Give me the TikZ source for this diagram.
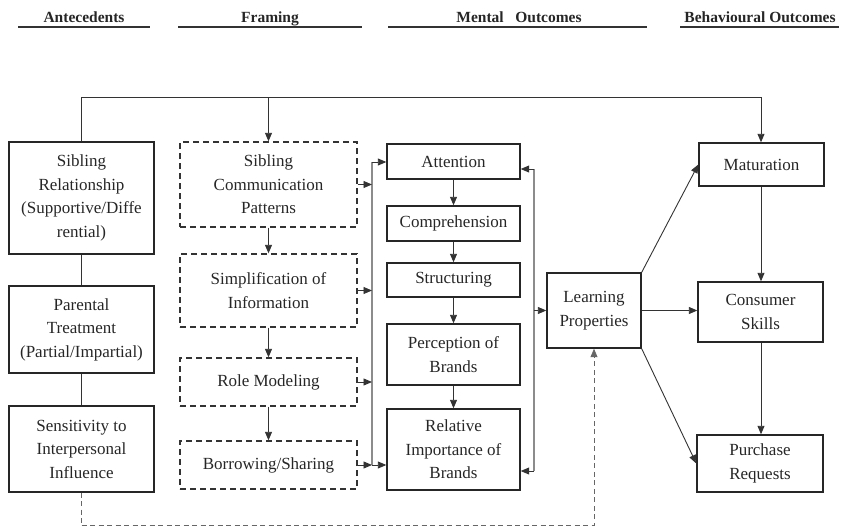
\documentclass[tikz,border=0pt]{standalone}
\usepackage{fontspec}
\setmainfont{Liberation Serif}
\usetikzlibrary{arrows.meta}
\begin{document}
\begin{tikzpicture}[x=1pt,y=-1pt,
  every node/.style={font=\fontsize{17}{23.5}\selectfont, text=black!85, align=center, inner sep=0pt},
  box/.style={draw=black!85, line width=1.4pt},
  dbox/.style={draw=black!80, line width=1.4pt, dash pattern=on 6pt off 4pt},
  head/.style={font=\fontsize{15.5}{18}\selectfont\bfseries, anchor=base},
  hline/.style={draw=black!80, line width=1.6pt},
  conn/.style={draw=black!80, line width=0.9pt},
  bus/.style={draw=black!45, line width=1.2pt},
  arr/.style={-{Triangle[length=8.5pt,width=7pt]}},
  dline/.style={draw=black!60, line width=0.8pt, dash pattern=on 5pt off 3.5pt}
]
\useasboundingbox (0,0) rectangle (843,527);
\newcommand{\bx}[6]{\node[#1, minimum width=#4-#2, minimum height=#5-#3] (#6) at ({(#2+#4)/2},{(#3+#5)/2})}
% headers
\node[head] (h1) at (84,23) {Antecedents};
\node[head] (h2) at (270,23) {Framing};
\node[head] (h3) at (519,23) {Mental\ \ \ Outcomes};
\node[head] (h4) at (760,23) {Behavioural Outcomes};
\draw[hline] (18,27) -- (150,27);
\draw[hline] (178,27) -- (362,27);
\draw[hline] (388,27) -- (647,27);
\draw[hline] (680,27) -- (839,27);
% antecedents
\bx{box}{9}{142}{154}{254}{sr} {Sibling\\Relationship\\(Supportive/Diffe\\rential)};
\bx{box}{9}{286}{154}{373}{pt} {Parental\\Treatment\\(Partial/Impartial)};
\bx{box}{9}{406}{154}{492}{si} {Sensitivity to\\Interpersonal\\Influence};
% framing
\bx{dbox}{180}{142}{357}{227}{sc} {Sibling\\Communication\\Patterns};
\bx{dbox}{180}{254}{357}{327}{sim} {Simplification of\\Information};
\bx{dbox}{180}{358}{357}{406}{rm} {Role Modeling};
\bx{dbox}{180}{441}{357}{489}{bs} {Borrowing/Sharing};
% mental
\bx{box}{387}{144}{520}{179}{at} {Attention};
\bx{box}{387}{206}{520}{241}{co} {Comprehension};
\bx{box}{387}{263}{520}{297}{st} {Structuring};
\bx{box}{387}{324}{520}{385}{pb} {Perception of\\Brands};
\bx{box}{387}{409}{520}{490}{ri} {Relative\\Importance of\\Brands};
% learning + behavioural
\bx{box}{547}{273}{641}{348}{lp} {Learning\\Properties};
\bx{box}{699}{143}{824}{186}{ma} {Maturation};
\bx{box}{698}{282}{823}{342}{cs} {Consumer\\Skills};
\bx{box}{697}{435}{823}{492}{pr} {Purchase\\Requests};
% coordinates
\coordinate (tr) at (761,97);
\coordinate (lbT) at (372,162);
\coordinate (lbB) at (372,465);
\coordinate (rbT) at (534,169);
\coordinate (rbB) at (534,471);
\coordinate (db) at (81.5,525);
\coordinate (vx) at (761,0);
% top connector
\draw[conn] (sr.north) |- (tr);
\draw[conn,arr] (tr) -- (tr |- ma.north);
\draw[conn,arr] (sc.north |- tr) -- (sc.north);
% antecedent links
\draw[conn] (sr.south) -- (pt.north);
\draw[conn] (pt.south) -- (si.north);
% framing chain
\draw[conn,arr] (sc.south) -- (sim.north);
\draw[conn,arr] (sim.south) -- (rm.north);
\draw[conn,arr] (rm.south) -- (bs.north);
% left bus
\draw[bus] (lbT) -- (lbB);
\draw[conn,arr] (sc.east) -- (sc.east -| lbT);
\draw[conn,arr] (sim.east) -- (sim.east -| lbT);
\draw[conn,arr] (rm.east) -- (rm.east -| lbT);
\draw[conn,arr] (bs.east) -- (bs.east -| lbT);
\draw[conn,arr] (lbT) -- (lbT -| at.west);
\draw[conn,arr] (lbB) -- (lbB -| ri.west);
% mental chain
\draw[conn,arr] (at.south) -- (co.north);
\draw[conn,arr] (co.south) -- (st.north);
\draw[conn,arr] (st.south) -- (pb.north);
\draw[conn,arr] (pb.south) -- (ri.north);
% right bus
\draw[bus] (rbT) -- (rbB);
\draw[conn,arr] (rbT) -- (rbT -| at.east);
\draw[conn,arr] (rbB) -- (rbB -| ri.east);
\draw[conn,arr] (lp.west -| rbT) -- (lp.west);
% learning outputs
\draw[conn,arr] (lp.north east) -- (ma.west);
\draw[conn,arr] (lp.east) -- (lp.east -| cs.west);
\draw[conn,arr] (lp.south east) -- (pr.west);
\draw[conn,arr] (ma.south -| vx) -- (cs.north -| vx);
\draw[conn,arr] (cs.south -| vx) -- (pr.north -| vx);
% dashed feedback
\draw[dline] (si.south) -- (db);
\draw[dline,arr] (db) -| (lp.south);
\end{tikzpicture}
\end{document}
